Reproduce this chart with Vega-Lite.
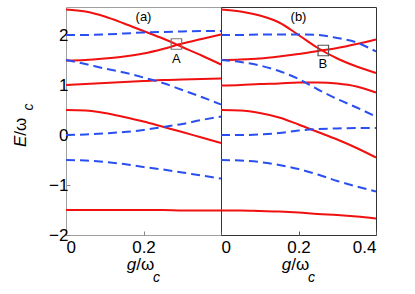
{
  "$schema": "https://vega.github.io/schema/vega-lite/v6.json",
  "padding": {"left": 11, "top": 5, "right": 5, "bottom": 5},
  "spacing": 0,
  "bounds": "flush",
  "config": {
    "font": "Liberation Sans",
    "view": {"stroke": "#a0a0a0", "strokeWidth": 1},
    "axis": {"labelFont": "Liberation Sans", "labelFontSize": 17, "labelColor": "#000000", "grid": false, "domain": false, "tickSize": -4, "tickColor": "#888888", "labelPadding": 4, "title": null}
  },
  "datasets": {
    "pa": [
      {"g": 0, "r1": 2.51, "r2": 1.49, "r3": 1.0, "r4": 0.5, "r5": -1.5, "b1": 2.0, "b2": 1.5, "b3": 0.0, "b4": -0.5},
      {"g": 0.05, "r1": 2.47, "r2": 1.5, "r3": 1.02, "r4": 0.49, "r5": -1.5, "b1": 2.0, "b2": 1.42, "b3": 0.01, "b4": -0.51},
      {"g": 0.1, "r1": 2.37, "r2": 1.53, "r3": 1.04, "r4": 0.44, "r5": -1.5, "b1": 2.01, "b2": 1.33, "b3": 0.03, "b4": -0.54},
      {"g": 0.15, "r1": 2.23, "r2": 1.57, "r3": 1.06, "r4": 0.36, "r5": -1.5, "b1": 2.03, "b2": 1.25, "b3": 0.06, "b4": -0.58},
      {"g": 0.2, "r1": 2.08, "r2": 1.63, "r3": 1.08, "r4": 0.27, "r5": -1.5, "b1": 2.05, "b2": 1.15, "b3": 0.1, "b4": -0.64},
      {"g": 0.25, "r1": 1.93, "r2": 1.72, "r3": 1.1, "r4": 0.165, "r5": -1.5, "b1": 2.06, "b2": 1.04, "b3": 0.16, "b4": -0.69},
      {"g": 0.3, "r1": 1.76, "r2": 1.83, "r3": 1.11, "r4": 0.06, "r5": -1.51, "b1": 2.07, "b2": 0.9, "b3": 0.22, "b4": -0.75},
      {"g": 0.35, "r1": 1.59, "r2": 1.92, "r3": 1.12, "r4": -0.05, "r5": -1.51, "b1": 2.08, "b2": 0.76, "b3": 0.3, "b4": -0.81},
      {"g": 0.4, "r1": 1.41, "r2": 2.01, "r3": 1.13, "r4": -0.16, "r5": -1.51, "b1": 2.08, "b2": 0.61, "b3": 0.37, "b4": -0.87}
    ],
    "pb": [
      {"g": 0, "r1": 2.51, "r2": 1.5, "r3": 0.99, "r4": 0.5, "r5": -1.51, "b1": 2.0, "b2": 1.5, "b3": 0.0, "b4": -0.5},
      {"g": 0.05, "r1": 2.47, "r2": 1.51, "r3": 1.0, "r4": 0.49, "r5": -1.51, "b1": 2.0, "b2": 1.46, "b3": 0.0, "b4": -0.51},
      {"g": 0.1, "r1": 2.39, "r2": 1.53, "r3": 1.02, "r4": 0.44, "r5": -1.52, "b1": 2.01, "b2": 1.39, "b3": 0.01, "b4": -0.54},
      {"g": 0.15, "r1": 2.25, "r2": 1.57, "r3": 1.03, "r4": 0.35, "r5": -1.53, "b1": 2.01, "b2": 1.28, "b3": 0.04, "b4": -0.6},
      {"g": 0.2, "r1": 2.0, "r2": 1.62, "r3": 1.05, "r4": 0.21, "r5": -1.55, "b1": 2.01, "b2": 1.12, "b3": 0.09, "b4": -0.68},
      {"g": 0.25, "r1": 1.74, "r2": 1.68, "r3": 1.05, "r4": 0.06, "r5": -1.58, "b1": 2.0, "b2": 0.91, "b3": 0.12, "b4": -0.79},
      {"g": 0.3, "r1": 1.53, "r2": 1.74, "r3": 1.03, "r4": -0.09, "r5": -1.6, "b1": 1.94, "b2": 0.72, "b3": 0.13, "b4": -0.92},
      {"g": 0.35, "r1": 1.37, "r2": 1.82, "r3": 0.97, "r4": -0.26, "r5": -1.63, "b1": 1.85, "b2": 0.55, "b3": 0.14, "b4": -1.03},
      {"g": 0.4, "r1": 1.24, "r2": 1.91, "r3": 0.85, "r4": -0.45, "r5": -1.67, "b1": 1.67, "b2": 0.37, "b3": 0.14, "b4": -1.13}
    ]
  },
  "hconcat": [
    {
      "width": 155,
      "height": 228,
      "view": {"stroke": "#a0a0a0"},
      "encoding": {
        "x": {"field": "g", "type": "quantitative", "scale": {"domain": [0, 0.4], "nice": false, "zero": false}, "axis": {"values": [0, 0.2], "format": ".1~f", "title": null, "tickColor": "#888888", "labelPadding": 8}},
        "y": {"field": "E", "type": "quantitative", "scale": {"domain": [-2, 2.56], "nice": false, "zero": false}, "axis": {"values": [-2, -1, 0, 1, 2], "title": null, "tickColor": "#888888", "labelPadding": 2}}
      },
      "layer": [
        {
          "data": {"name": "pa"},
          "transform": [{"fold": ["r1", "r2", "r3", "r4", "r5"], "as": ["curve", "E"]}],
          "mark": {"type": "line", "color": "#f01010", "strokeWidth": 2, "interpolate": "monotone"},
          "encoding": {"detail": {"field": "curve"}}
        },
        {
          "data": {"name": "pa"},
          "transform": [{"fold": ["b1", "b2", "b3", "b4"], "as": ["curve", "E"]}],
          "mark": {"type": "line", "color": "#2a4ff0", "strokeWidth": 2, "strokeDash": [9, 5], "interpolate": "monotone"},
          "encoding": {"detail": {"field": "curve"}}
        },
        {
          "data": {"values": [{"g": 0.285, "E": 1.82}]},
          "mark": {"type": "point", "shape": "square", "size": 110, "filled": false, "stroke": "#777777", "strokeWidth": 1.2, "opacity": 1}
        },
        {
          "data": {"values": [{"g": 0.285, "E": 1.44, "t": "A"}]},
          "mark": {"type": "text", "fontSize": 13, "align": "center", "baseline": "alphabetic", "color": "#000000"},
          "encoding": {"text": {"field": "t"}}
        },
        {
          "data": {"values": [{"g": 0.2, "E": 2.36, "t": "(a)"}]},
          "mark": {"type": "text", "fontSize": 13, "align": "center", "baseline": "middle", "color": "#000000"},
          "encoding": {"text": {"field": "t"}}
        },
        {
          "data": {"values": [{"g": -0.103, "E": -0.24, "t": "E"}]},
          "mark": {"type": "text", "fontSize": 17, "fontStyle": "italic", "angle": 270, "align": "left", "baseline": "alphabetic", "color": "#000000"},
          "encoding": {"text": {"field": "t"}}
        },
        {
          "data": {"values": [{"g": -0.103, "E": -0.015, "t": "/ω"}]},
          "mark": {"type": "text", "fontSize": 17, "angle": 270, "align": "left", "baseline": "alphabetic", "color": "#000000"},
          "encoding": {"text": {"field": "t"}}
        },
        {
          "data": {"values": [{"g": -0.084, "E": 0.49, "t": "c"}]},
          "mark": {"type": "text", "fontSize": 14, "fontStyle": "italic", "angle": 270, "align": "left", "baseline": "alphabetic", "color": "#000000"},
          "encoding": {"text": {"field": "t"}}
        },
        {
          "data": {"values": [{"g": 0.157, "E": -2.706, "t": "g"}]},
          "mark": {"type": "text", "fontSize": 17, "fontStyle": "italic", "align": "left", "baseline": "alphabetic", "color": "#000000"},
          "encoding": {"text": {"field": "t"}}
        },
        {
          "data": {"values": [{"g": 0.1815, "E": -2.706, "t": "/ω"}]},
          "mark": {"type": "text", "fontSize": 17, "align": "left", "baseline": "alphabetic", "color": "#000000"},
          "encoding": {"text": {"field": "t"}}
        },
        {
          "data": {"values": [{"g": 0.2245, "E": -2.94, "t": "c"}]},
          "mark": {"type": "text", "fontSize": 14, "fontStyle": "italic", "align": "left", "baseline": "alphabetic", "color": "#000000"},
          "encoding": {"text": {"field": "t"}}
        }
      ]
    },
    {
      "width": 155,
      "height": 228,
      "view": {"stroke": "#333333"},
      "encoding": {
        "x": {"field": "g", "type": "quantitative", "scale": {"domain": [0, 0.4], "nice": false, "zero": false}, "axis": {"values": [0, 0.2, 0.4], "format": ".1~f", "title": null, "tickColor": "#555555", "labelPadding": 8}},
        "y": {"field": "E", "type": "quantitative", "scale": {"domain": [-2, 2.56], "nice": false, "zero": false}, "axis": null}
      },
      "layer": [
        {
          "data": {"name": "pb"},
          "transform": [{"fold": ["r1", "r2", "r3", "r4", "r5"], "as": ["curve", "E"]}],
          "mark": {"type": "line", "color": "#f01010", "strokeWidth": 2, "interpolate": "monotone"},
          "encoding": {"detail": {"field": "curve"}}
        },
        {
          "data": {"name": "pb"},
          "transform": [{"fold": ["b1", "b2", "b3", "b4"], "as": ["curve", "E"]}],
          "mark": {"type": "line", "color": "#2a4ff0", "strokeWidth": 2, "strokeDash": [9, 5], "interpolate": "monotone"},
          "encoding": {"detail": {"field": "curve"}}
        },
        {
          "data": {"values": [{"g": 0.264, "E": 1.69}]},
          "mark": {"type": "point", "shape": "square", "size": 110, "filled": false, "stroke": "#555555", "strokeWidth": 1.2, "opacity": 1}
        },
        {
          "data": {"values": [{"g": 0.263, "E": 1.34, "t": "B"}]},
          "mark": {"type": "text", "fontSize": 13, "align": "center", "baseline": "alphabetic", "color": "#000000"},
          "encoding": {"text": {"field": "t"}}
        },
        {
          "data": {"values": [{"g": 0.2, "E": 2.36, "t": "(b)"}]},
          "mark": {"type": "text", "fontSize": 13, "align": "center", "baseline": "middle", "color": "#000000"},
          "encoding": {"text": {"field": "t"}}
        },
        {
          "data": {"values": [{"g": 0.157, "E": -2.706, "t": "g"}]},
          "mark": {"type": "text", "fontSize": 17, "fontStyle": "italic", "align": "left", "baseline": "alphabetic", "color": "#000000"},
          "encoding": {"text": {"field": "t"}}
        },
        {
          "data": {"values": [{"g": 0.1815, "E": -2.706, "t": "/ω"}]},
          "mark": {"type": "text", "fontSize": 17, "align": "left", "baseline": "alphabetic", "color": "#000000"},
          "encoding": {"text": {"field": "t"}}
        },
        {
          "data": {"values": [{"g": 0.2245, "E": -2.94, "t": "c"}]},
          "mark": {"type": "text", "fontSize": 14, "fontStyle": "italic", "align": "left", "baseline": "alphabetic", "color": "#000000"},
          "encoding": {"text": {"field": "t"}}
        }
      ]
    }
  ]
}
